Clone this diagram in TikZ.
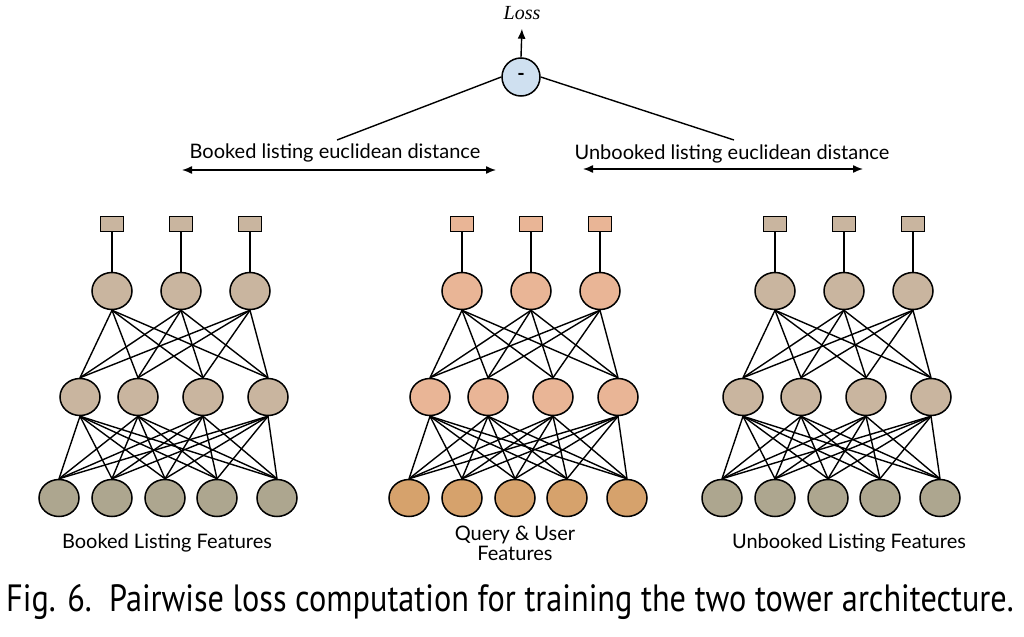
\documentclass[tikz,border=0pt]{standalone}
\usepackage{fontspec}
\setmainfont{Lato}
\newfontfamily\lossfont{Liberation Serif}
\newfontfamily\capfont[FakeStretch=0.85]{PT Sans}
\usetikzlibrary{arrows.meta,positioning,shapes.geometric}
\definecolor{tanfill}{RGB}{201,181,159}
\definecolor{olivefill}{RGB}{173,166,143}
\definecolor{salfill}{RGB}{233,181,150}
\definecolor{orangefill}{RGB}{214,162,108}
\definecolor{minusblue}{RGB}{207,224,240}

\begin{document}
\begin{tikzpicture}[x=0.5pt,y=-0.5pt,
  unit/.style={ellipse,draw,line width=0.75pt,minimum width=20pt,minimum height=18.5pt,inner sep=0pt},
  outbox/.style={rectangle,draw,line width=0.75pt,minimum width=11.5pt,minimum height=7.5pt,inner sep=0pt},
  wire/.style={line width=0.7pt},
  tip/.style={-{Latex[length=5pt,width=4pt]}},
  lbl/.style={font=\fontsize{10}{10}\selectfont,align=center}]
  \useasboundingbox (0,0) rectangle (1024,637);

  % Towers: name/x of first box/hidden colour/input colour
  \foreach \tw/\dx/\ca/\cb in {b/112/tanfill/olivefill, q/462/salfill/orangefill, u/775/tanfill/olivefill} {
    % output boxes and top layer
    \foreach \i/\x in {1/0, 2/69, 3/138} {
      \node[outbox,fill=\ca] (\tw s\i) at (\dx+\x,224) {};
      \node[unit,fill=\ca] (\tw h\i) at (\dx+\x,291) {};
      \draw[wire] (\tw h\i.north) -- (\tw s\i.south);
    }
    % middle layer
    \foreach \j/\x in {1/-32, 2/26, 3/91, 4/156}
      \node[unit,fill=\ca] (\tw m\j) at (\dx+\x,397) {};
    % input layer
    \foreach \k/\x in {1/-53, 2/0, 3/53, 4/105, 5/165}
      \node[unit,fill=\cb] (\tw f\k) at (\dx+\x,498) {};
    % Edges
    \foreach \i in {1,2,3}
      \foreach \j in {1,...,4}
        \draw[wire] (\tw h\i.south) -- (\tw m\j.north);
    \foreach \j in {1,...,4}
      \foreach \k in {1,...,5}
        \draw[wire] (\tw m\j.south) -- (\tw f\k.north);
  }

  % Tower labels
  \node[lbl] (blab) at (167,543) {Booked Listing Features};
  \node[lbl] (qlab) at (515,543) {Query \& User\\Features};
  \node[lbl] (ulab) at (849,543) {Unbooked Listing Features};

  % Loss
  \node[circle,draw,line width=0.75pt,fill=minusblue,minimum size=19pt,inner sep=0pt,font=\bfseries] (minus) at (521,77) {-};
  \node[font=\lossfont\itshape\fontsize{10}{10}\selectfont] (loss) at (522,13) {Loss};
  \draw[wire,tip,shorten >=1pt] (minus.north) -- (loss.south);

  % Distances
  \coordinate (bdl) at (337,140);
  \coordinate (udl) at (734,140);
  \draw[wire] (minus.west) -- (bdl);
  \draw[wire] (minus.east) -- (udl);
  \node[lbl] (btxt) at (335,153) {Booked listing euclidean distance};
  \node[lbl] (utxt) at (732,154) {Unbooked listing euclidean distance};
  \coordinate (bl1) at (182,170);
  \coordinate (bl2) at (496,170);
  \coordinate (ul1) at (583,169);
  \coordinate (ul2) at (863,169);
  \draw[wire,{Latex[length=5pt,width=4pt]}-{Latex[length=5pt,width=4pt]}] (bl1) -- (bl2);
  \draw[wire,{Latex[length=5pt,width=4pt]}-{Latex[length=5pt,width=4pt]}] (ul1) -- (ul2);

  % Caption
  \node[font=\capfont\fontsize{19}{22}\selectfont] (cap) at (510,602) {Fig. 6.\ \ Pairwise loss computation for training the two tower architecture.};
\end{tikzpicture}
\end{document}
